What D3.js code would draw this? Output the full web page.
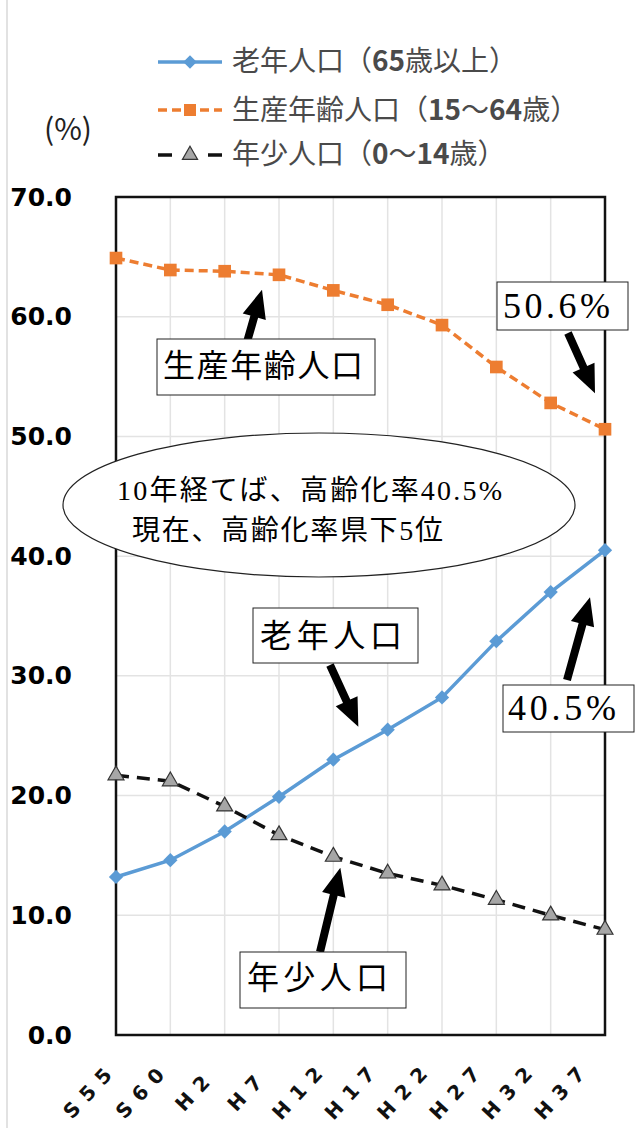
<!DOCTYPE html>
<html lang="ja">
<head>
<meta charset="utf-8">
<script src="https://cdn.jsdelivr.net/npm/d3@7"></script>
<style>
  html, body { margin: 0; padding: 0; background: #fff; }
  svg { display: block; }
</style>
</head>
<body>
<svg id="chart" width="641" height="1128"></svg>
<script>
// 年齢3区分別人口構成比の推移
const categories = ["S55", "S60", "H2", "H7", "H12", "H17", "H22", "H27", "H32", "H37"];
const elderly = [13.2, 14.6, 17.0, 19.9, 23.0, 25.5, 28.2, 32.9, 37.0, 40.5];
const working = [64.9, 63.9, 63.8, 63.5, 62.2, 61.0, 59.3, 55.8, 52.8, 50.6];
const young   = [21.7, 21.2, 19.1, 16.7, 14.9, 13.5, 12.5, 11.3, 10.0, 8.8];
const yTicks = [0, 10, 20, 30, 40, 50, 60, 70];
const seriesNames = ["老年人口（65歳以上）", "生産年齢人口（15～64歳）", "年少人口（0～14歳）"];

const svg = d3.select("#chart");
const W = 641, H = 1128;
const plot = { left: 116, right: 605, top: 197, bottom: 1035 };

const x = d3.scalePoint().domain(categories).range([plot.left, plot.right]);
const y = d3.scaleLinear().domain([0, 70]).range([plot.bottom, plot.top]);
// rotated category labels sit on their own slightly narrower track
const xLabel = d3.scalePoint().domain(categories).range([90, 562]);
const fmt = d3.format(".1f");

svg.append("rect").attr("width", W).attr("height", H).attr("fill", "#fff");
// outer chart border (left edge)
svg.append("line").attr("x1", 7).attr("x2", 7).attr("y1", 0).attr("y2", H)
  .attr("stroke", "#d9d9d9").attr("stroke-width", 1.5);

// gridlines
const grid = svg.append("g").attr("stroke", "#e3e3e3").attr("stroke-width", 1.5);
grid.selectAll(".gy").data(yTicks).join("line")
  .attr("x1", plot.left).attr("x2", plot.right)
  .attr("y1", d => y(d)).attr("y2", d => y(d));
grid.selectAll(".gx").data(categories).join("line")
  .attr("x1", d => x(d)).attr("x2", d => x(d))
  .attr("y1", plot.top).attr("y2", plot.bottom);

// frame
svg.append("rect")
  .attr("x", plot.left).attr("y", plot.top)
  .attr("width", plot.right - plot.left).attr("height", plot.bottom - plot.top)
  .attr("fill", "none").attr("stroke", "#111").attr("stroke-width", 2.5);

// y axis labels
const yAxis = svg.append("g")
  .attr("transform", `translate(${plot.left},0)`)
  .call(d3.axisLeft(y).tickValues(yTicks).tickFormat(fmt).tickSize(0).tickPadding(44));
yAxis.select(".domain").remove();
yAxis.selectAll("text")
  .attr("font-family", "'DejaVu Sans', Verdana, sans-serif")
  .attr("font-weight", "bold").attr("font-size", 25).attr("fill", "#000");

// x category labels, rotated
const xAxis = svg.append("g")
  .attr("transform", "translate(0,1090)")
  .call(d3.axisBottom(xLabel).tickSize(0).tickPadding(0));
xAxis.select(".domain").remove();
xAxis.selectAll(".tick text")
  .attr("y", 0).attr("dy", "0.35em")
  .attr("transform", "rotate(-47)")
  .attr("text-anchor", "middle")
  .attr("font-family", "'DejaVu Sans', Verdana, sans-serif")
  .attr("font-weight", "bold").attr("font-size", 20)
  .attr("letter-spacing", 9).attr("fill", "#111");

// (%) unit
svg.append("text").attr("x", 44).attr("y", 140)
  .attr("font-family", "'Noto Sans CJK JP', sans-serif").attr("font-size", 30)
  .attr("fill", "#222").text("(%)");

// series
const series = [
  { name: seriesNames[0], values: elderly, color: "#5B9BD5", dash: null, symbol: d3.symbolDiamond2, size: 130, fill: "#5B9BD5", stroke: "none" },
  { name: seriesNames[1], values: working, color: "#ED7D31", dash: "9,5", symbol: d3.symbolSquare, size: 160, fill: "#ED7D31", stroke: "none" },
  { name: seriesNames[2], values: young, color: "#111", dash: "13,8", symbol: d3.symbolTriangle, size: 110, fill: "#a6a6a6", stroke: "#333" }
];

const line = d3.line().x((d, i) => x(categories[i])).y(d => y(d));

series.forEach(s => {
  const g = svg.append("g");
  g.append("path").datum(s.values)
    .attr("d", line).attr("fill", "none")
    .attr("stroke", s.color).attr("stroke-width", 3.5)
    .attr("stroke-dasharray", s.dash);
  g.selectAll("path.m").data(s.values).join("path").attr("class", "m")
    .attr("transform", (d, i) => `translate(${x(categories[i])},${y(d)})`)
    .attr("d", d3.symbol().type(s.symbol).size(s.size))
    .attr("fill", s.fill).attr("stroke", s.stroke).attr("stroke-width", 1.2);
});

// legend
const legend = svg.append("g");
const legendRows = [
  { s: series[0], cy: 62, base: 71, dash: null },
  { s: series[1], cy: 110, base: 120, dash: "9,5" },
  { s: series[2], cy: 155, base: 164, dash: "14,36" }
];
legendRows.forEach(r => {
  legend.append("line").attr("x1", 158).attr("x2", 222).attr("y1", r.cy).attr("y2", r.cy)
    .attr("stroke", r.s.color).attr("stroke-width", 3.5).attr("stroke-dasharray", r.dash);
  legend.append("path").attr("transform", `translate(190,${r.cy})`)
    .attr("d", d3.symbol().type(r.s.symbol).size(r.s.size * 0.9))
    .attr("fill", r.s.fill).attr("stroke", r.s.stroke).attr("stroke-width", 1.2);
  const t = legend.append("text").attr("x", 232).attr("y", r.base)
    .attr("font-family", "'Noto Sans CJK JP', sans-serif").attr("font-size", 28)
    .attr("fill", "#4a4a4a");
  r.s.name.split(/(\d+)/).filter(p => p.length).forEach(p => {
    t.append("tspan").attr("font-weight", /\d/.test(p) ? "bold" : "normal").text(p);
  });
});

// callouts
const ann = svg.append("g");
function arrow(tail, tip) {
  const dx = tip[0] - tail[0], dy = tip[1] - tail[1];
  const len = Math.hypot(dx, dy), ux = dx / len, uy = dy / len;
  const nx = -uy, ny = ux, sw = 4, hw = 12, hl = 28;
  const bx = tip[0] - ux * hl, by = tip[1] - uy * hl;
  const pts = [
    [tail[0] + nx * sw, tail[1] + ny * sw],
    [bx + nx * sw, by + ny * sw],
    [bx + nx * hw, by + ny * hw],
    tip,
    [bx - nx * hw, by - ny * hw],
    [bx - nx * sw, by - ny * sw],
    [tail[0] - nx * sw, tail[1] - ny * sw]
  ];
  ann.append("path").attr("d", d3.line()(pts) + "Z").attr("fill", "#000");
}
function box(rx, ry, rw, rh, label, tx, ty, tlen, font, size) {
  ann.append("rect").attr("x", rx).attr("y", ry).attr("width", rw).attr("height", rh)
    .attr("fill", "#fff").attr("stroke", "#222").attr("stroke-width", 1);
  ann.append("text").attr("x", tx).attr("y", ty)
    .attr("font-family", font).attr("font-size", size).attr("fill", "#000")
    .attr("textLength", tlen).attr("lengthAdjust", "spacing")
    .text(label);
}
const jp = "'Noto Sans CJK JP', sans-serif";
const num = "'Liberation Serif', 'Noto Sans CJK JP', serif";
const iLast = categories.length - 1;

// 生産年齢人口
arrow([247, 342], [x("H7") - 17, y(working[3]) + 15]);
box(157, 339, 218, 56, "生産年齢人口", 163, 377, 200, jp, 32);
// 50.6%
arrow([568, 333], [x(categories[iLast]) - 10, y(working[iLast]) - 36]);
box(497, 282, 131, 48, fmt(working[iLast]) + "%", 503, 318, 107, num, 36);
// 老年人口
arrow([330, 665], [x("H12") + 25, y(elderly[4]) - 33]);
box(253, 608, 165, 55, "老年人口", 260, 647, 142, jp, 32);
// 40.5%
arrow([567, 680], [x(categories[iLast]) - 15, y(elderly[iLast]) + 47]);
box(503, 685, 131, 47, fmt(elderly[iLast]) + "%", 508, 720, 108, num, 36);
// 年少人口
arrow([320, 952], [x("H12") + 7, y(young[4]) + 11]);
box(240, 952, 166, 56, "年少人口", 247, 989, 141, jp, 32);

// speech ellipse
ann.append("ellipse").attr("cx", 319).attr("cy", 505).attr("rx", 256).attr("ry", 72)
  .attr("fill", "#fff").attr("stroke", "#222").attr("stroke-width", 1.2);
ann.append("text").attr("x", 117).attr("y", 500)
  .attr("font-family", num).attr("font-size", 28).attr("fill", "#000")
  .attr("textLength", 385).attr("lengthAdjust", "spacing")
  .text(`10年経てば、高齢化率${fmt(elderly[iLast])}%`);
ann.append("text").attr("x", 132).attr("y", 540)
  .attr("font-family", num).attr("font-size", 28).attr("fill", "#000")
  .attr("textLength", 311).attr("lengthAdjust", "spacing")
  .text("現在、高齢化率県下5位");
</script>
</body>
</html>
